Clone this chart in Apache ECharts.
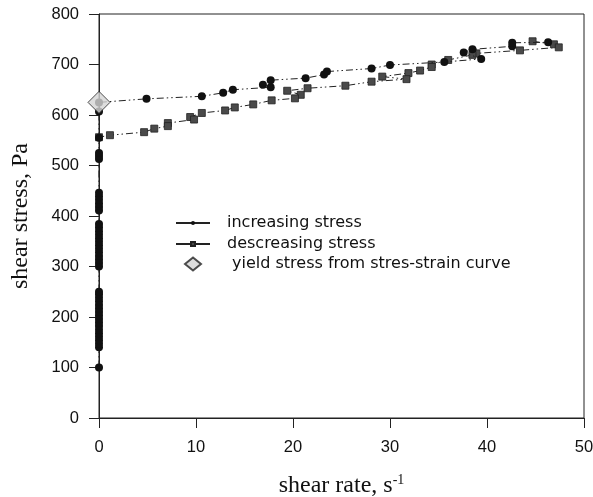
<!DOCTYPE html>
<html><head><meta charset="utf-8">
<script src="https://cdn.jsdelivr.net/npm/echarts@6/dist/echarts.min.js"></script>
<style>html,body{margin:0;padding:0;background:#fff}#c{width:593px;height:497px}</style>
</head><body><div id="c"></div>
<script>
// increasing stress (shear rate, shear stress)
var incX = [
  0,0,0,0,0,0,0,0,0,0,
  0,0,0,0,0,0,0,0,0,0,
  0,0,0,0,0,0,0,0,0,0,
  0,0,0,0,0,0,0,0,0,0,
  0,0,0,
  4.9,10.6,12.8,13.8,17.7,16.9,17.7,21.3,23.2,23.5,28.1,30.0,35.6,39.4,37.6,38.5,42.6,42.6,46.3];
var incY = [
  100,140,147,154,161,168,175,182,189,196,
  203,210,217,224,231,238,245,250,300,307,
  314,321,328,335,342,349,356,363,370,377,
  384,411,418,425,432,439,446,513,519,525,
  555,607,625,
  632,637,644,650,655,660,669,673,680,686,692,699,705,711,724,730,736,743,744];
// descending stress
var decX = [44.7,46.9,47.4,43.4,38.9,38.5,36.0,34.3,34.3,33.1,31.9,29.2,31.7,28.1,25.4,21.5,19.4,20.8,20.2,17.8,15.9,14.0,13.0,10.6,9.4,9.8,7.1,7.1,5.7,4.65,1.13,0];
var decY = [746,740,734,728,722,719,709,700,695,688,683,676,671,666,658,653,648,640,633,629,621,615,609,604,596,591,584,578,573,566,560,556];
// yield stress from stress-strain curve
var yieldX = [0];
var yieldY = [625];
var xTicks = [0,10,20,30,40,50];
var yTicks = [0,100,200,300,400,500,600,700,800];

function pairs(xs, ys){ return xs.map(function(x,i){return [x, ys[i]];}); }
var dashDot = [7,3,1.5,3,1.5,3];
var chart = echarts.init(document.getElementById('c'));
chart.setOption({
  animation:false,
  backgroundColor:'#fff',
  grid:{left:99,right:9,top:14,bottom:79,containLabel:false,outerBoundsMode:'none',show:true,borderColor:'#222',borderWidth:1,backgroundColor:'transparent'},
  xAxis:{type:'value',min:xTicks[0],max:xTicks[xTicks.length-1],interval:10,
    name:'{a|shear rate, s}{b|-1}',nameLocation:'middle',nameGap:55,
    nameTextStyle:{rich:{a:{fontFamily:'Liberation Serif',fontSize:24,color:'#111'},b:{fontFamily:'Liberation Serif',fontSize:14,color:'#111',verticalAlign:'top',padding:[0,0,12,0]}}},
    axisLine:{lineStyle:{color:'#222',width:1}},axisTick:{inside:false,length:10,lineStyle:{color:'#222'}},
    axisLabel:{fontFamily:'Liberation Sans',fontSize:16.5,color:'#111',margin:21},splitLine:{show:false}},
  yAxis:{type:'value',min:yTicks[0],max:yTicks[yTicks.length-1],interval:100,
    name:'shear stress, Pa',nameLocation:'middle',nameGap:66,
    nameTextStyle:{fontFamily:'Liberation Serif',fontSize:24,color:'#111'},
    axisLine:{lineStyle:{color:'#222',width:1}},axisTick:{inside:false,length:10,lineStyle:{color:'#222'}},
    axisLabel:{fontFamily:'Liberation Sans',fontSize:16.5,color:'#111',margin:20},splitLine:{show:false}},
  legend:[{orient:'vertical',left:170,top:210,itemWidth:34,itemHeight:5,itemGap:5,
    data:['increasing stress','descreasing stress'],
    lineStyle:{type:'solid'},
    textStyle:{fontFamily:'DejaVu Sans',fontSize:16,lineHeight:16,color:'#111',padding:[0,0,0,12]}},
   {orient:'vertical',left:179,top:251,itemWidth:16,itemHeight:13,
    data:['yield stress from stres-strain curve'],
    textStyle:{fontFamily:'DejaVu Sans',fontSize:16,lineHeight:16,color:'#111',padding:[0,0,0,26]}}],
  series:[
    {name:'increasing stress',type:'line',data:pairs(incX,incY),symbol:'circle',symbolSize:8,
      itemStyle:{color:'#111'},lineStyle:{color:'#222',width:1,type:dashDot},z:3},
    {name:'descreasing stress',type:'line',data:pairs(decX,decY),symbol:'rect',symbolSize:7,
      itemStyle:{color:'#4a4a4a',borderColor:'#222',borderWidth:0.8},lineStyle:{color:'#222',width:1,type:dashDot},z:2},
    {name:'yield stress from stres-strain curve',type:'scatter',data:pairs(yieldX,yieldY),symbol:'diamond',symbolSize:22,
      itemStyle:{color:'#d4d4d4',borderColor:'#222',borderWidth:1},z:4}
  ]
});
</script></body></html>
